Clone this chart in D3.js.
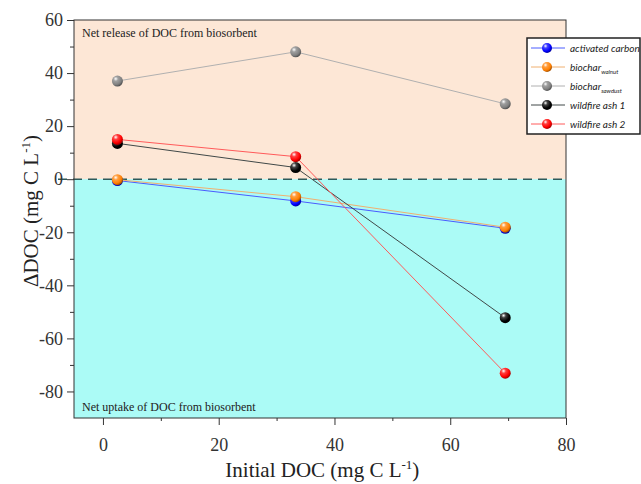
<!DOCTYPE html>
<html>
<head>
<meta charset="utf-8">
<script src="https://cdn.jsdelivr.net/npm/d3@7"></script>
<style>
  body { margin: 0; background: #fff; }
  svg { display: block; }
  .axis path, .axis line { stroke: #333; stroke-width: 1; }
</style>
</head>
<body>
<div id="chartArea"></div>
<script>
// data
var initialDoc = [2.5, 33.3, 69.5];
var seriesNames = ["activated carbon", "biochar", "biochar", "wildfire ash 1", "wildfire ash 2"];
var seriesSubs = ["", "walnut", "sawdust", "", ""];
var activatedCarbon = [-0.5, -8.2, -18.5];
var biocharWalnut = [-0.2, -6.6, -18.1];
var biocharSawdust = [37, 48, 28.4];
var wildfireAsh1 = [13.5, 4.4, -52.2];
var wildfireAsh2 = [15, 8.5, -73.1];
var seriesColors = ["#0000ff", "#ff7f00", "#808080", "#000000", "#ff0000"];
var lineColors = ["#4a5cff", "#f0b070", "#b0b0b0", "#404848", "#ff5a5a"];
var xTicks = [0, 20, 40, 60, 80];
var yTicks = [-80, -60, -40, -20, 0, 20, 40, 60];

var allSeries = [activatedCarbon, biocharWalnut, biocharSawdust, wildfireAsh1, wildfireAsh2];

var serif = "'Liberation Serif', 'Times New Roman', serif";

var W = 641, H = 484;
var margin = {top: 20, right: 75, bottom: 66, left: 74};
var width = W - margin.left - margin.right,
    height = H - margin.top - margin.bottom;

var x = d3.scaleLinear().domain([-5, 80]).range([0, width]);
var y = d3.scaleLinear().domain([-90, 60]).range([height, 0]);

var svg = d3.select("#chartArea").append("svg")
    .attr("width", W)
    .attr("height", H);

var defs = svg.append("defs");
seriesColors.forEach(function(c, i) {
    var g = defs.append("radialGradient")
        .attr("id", "ball" + i)
        .attr("cx", "35%").attr("cy", "30%").attr("r", "70%");
    g.append("stop").attr("offset", "0%").attr("stop-color", "#ffffff");
    g.append("stop").attr("offset", "30%").attr("stop-color", d3.interpolateRgb(c, "#fff")(0.25));
    g.append("stop").attr("offset", "75%").attr("stop-color", c);
    g.append("stop").attr("offset", "100%").attr("stop-color", d3.interpolateRgb(c, "#000")(0.35));
});

var focus = svg.append("g")
    .attr("transform", "translate(" + margin.left + "," + margin.top + ")");

// shaded regions
focus.append("rect")
    .attr("x", 0).attr("y", y(60))
    .attr("width", width).attr("height", y(0) - y(60))
    .attr("fill", "#fde7d6");
focus.append("rect")
    .attr("x", 0).attr("y", y(0))
    .attr("width", width).attr("height", y(-90) - y(0))
    .attr("fill", "#abfbf6");

// zero line
focus.append("line")
    .attr("x1", -16).attr("x2", width)
    .attr("y1", y(0)).attr("y2", y(0))
    .attr("stroke", "#2e5a5a")
    .attr("stroke-width", 1.5)
    .attr("stroke-dasharray", "9,6");

focus.append("text")
    .attr("x", 8).attr("y", y(60) + 17)
    .style("font-family", serif)
    .style("font-size", "12px")
    .attr("fill", "#222")
    .text("Net release of DOC from biosorbent");

focus.append("text")
    .attr("x", 8).attr("y", y(-90) - 7)
    .style("font-family", serif)
    .style("font-size", "12px")
    .attr("fill", "#222")
    .text("Net uptake of DOC from biosorbent");

// frame
focus.append("rect")
    .attr("x", 0).attr("y", 0)
    .attr("width", width).attr("height", height)
    .attr("fill", "none")
    .attr("stroke", "#333");

// axes
var fmt = function(d) { return String(d); };
var xAxis = d3.axisBottom(x).tickValues(xTicks).tickSize(7).tickSizeOuter(0).tickPadding(13).tickFormat(fmt);
var xMinor = d3.axisBottom(x).tickValues([10, 30, 50, 70]).tickSize(3).tickSizeOuter(0).tickFormat("");
var yAxis = d3.axisLeft(y).tickValues(yTicks).tickSize(7).tickSizeOuter(0).tickPadding(4).tickFormat(fmt);
var yMinor = d3.axisLeft(y).tickValues([-70, -50, -30, -10, 10, 30, 50]).tickSize(4).tickSizeOuter(0).tickFormat("");

focus.append("g").attr("class", "axis").attr("transform", "translate(0," + height + ")").call(xAxis);
focus.append("g").attr("class", "axis").attr("transform", "translate(0," + height + ")").call(xMinor);
focus.append("g").attr("class", "axis").call(yAxis);
focus.append("g").attr("class", "axis").call(yMinor);
focus.selectAll(".axis .domain").remove();
focus.selectAll(".axis text")
    .style("font-family", serif)
    .style("font-size", "18px")
    .attr("fill", "#333");

// axis titles
var yTitle = svg.append("text")
    .attr("transform", "translate(38," + (margin.top + y(-12)) + ") rotate(-90)")
    .style("text-anchor", "middle")
    .style("font-family", serif)
    .style("font-size", "21px")
    .attr("fill", "#222");
yTitle.append("tspan").text("\u0394DOC (mg C L");
yTitle.append("tspan").attr("dy", -8).style("font-size", "13px").text("-1");
yTitle.append("tspan").attr("dy", 8).text(")");

var xTitle = svg.append("text")
    .attr("x", margin.left + x(37.9))
    .attr("y", 477)
    .style("text-anchor", "middle")
    .style("font-family", serif)
    .style("font-size", "21px")
    .attr("fill", "#222");
xTitle.append("tspan").text("Initial DOC (mg C L");
xTitle.append("tspan").attr("dy", -8).style("font-size", "13px").text("-1");
xTitle.append("tspan").attr("dy", 8).text(")");

// lines and points
var line = d3.line()
    .x(function(d, i) { return x(initialDoc[i]); })
    .y(function(d) { return y(d); });

allSeries.forEach(function(s, k) {
    focus.append("path")
        .datum(s)
        .attr("fill", "none")
        .attr("stroke", lineColors[k])
        .attr("stroke-width", 1)
        .attr("d", line);
});
allSeries.forEach(function(s, k) {
    focus.selectAll(".pt" + k)
        .data(s)
        .enter().append("circle")
        .attr("class", "pt" + k)
        .attr("cx", function(d, i) { return x(initialDoc[i]); })
        .attr("cy", function(d) { return y(d); })
        .attr("r", 5.5)
        .attr("fill", "url(#ball" + k + ")");
});

// legend
var legend = svg.append("g").attr("transform", "translate(527,38)");
legend.append("rect")
    .attr("x", 0).attr("y", 0)
    .attr("width", 113).attr("height", 96)
    .attr("fill", "#fff")
    .attr("stroke", "#222")
    .attr("stroke-width", 1.5);

var items = legend.selectAll(".legend")
    .data(seriesNames)
    .enter().append("g")
    .attr("class", "legend")
    .attr("transform", function(d, i) { return "translate(0," + (10 + i * 19) + ")"; });

items.append("line")
    .attr("x1", 4).attr("x2", 38)
    .attr("stroke", function(d, i) { return lineColors[i]; })
    .attr("stroke-width", 1);
items.append("circle")
    .attr("cx", 20).attr("r", 5)
    .attr("fill", function(d, i) { return "url(#ball" + i + ")"; });
var lt = items.append("text")
    .attr("x", 43).attr("y", 3.5)
    .style("font-family", "Lato, sans-serif")
    .style("font-style", "italic")
    .style("font-size", "10px")
    .attr("fill", "#222");
lt.append("tspan").text(function(d) { return d; });
lt.append("tspan")
    .attr("dy", 3)
    .style("font-size", "6px")
    .text(function(d, i) { return seriesSubs[i]; });
</script>
</body>
</html>
